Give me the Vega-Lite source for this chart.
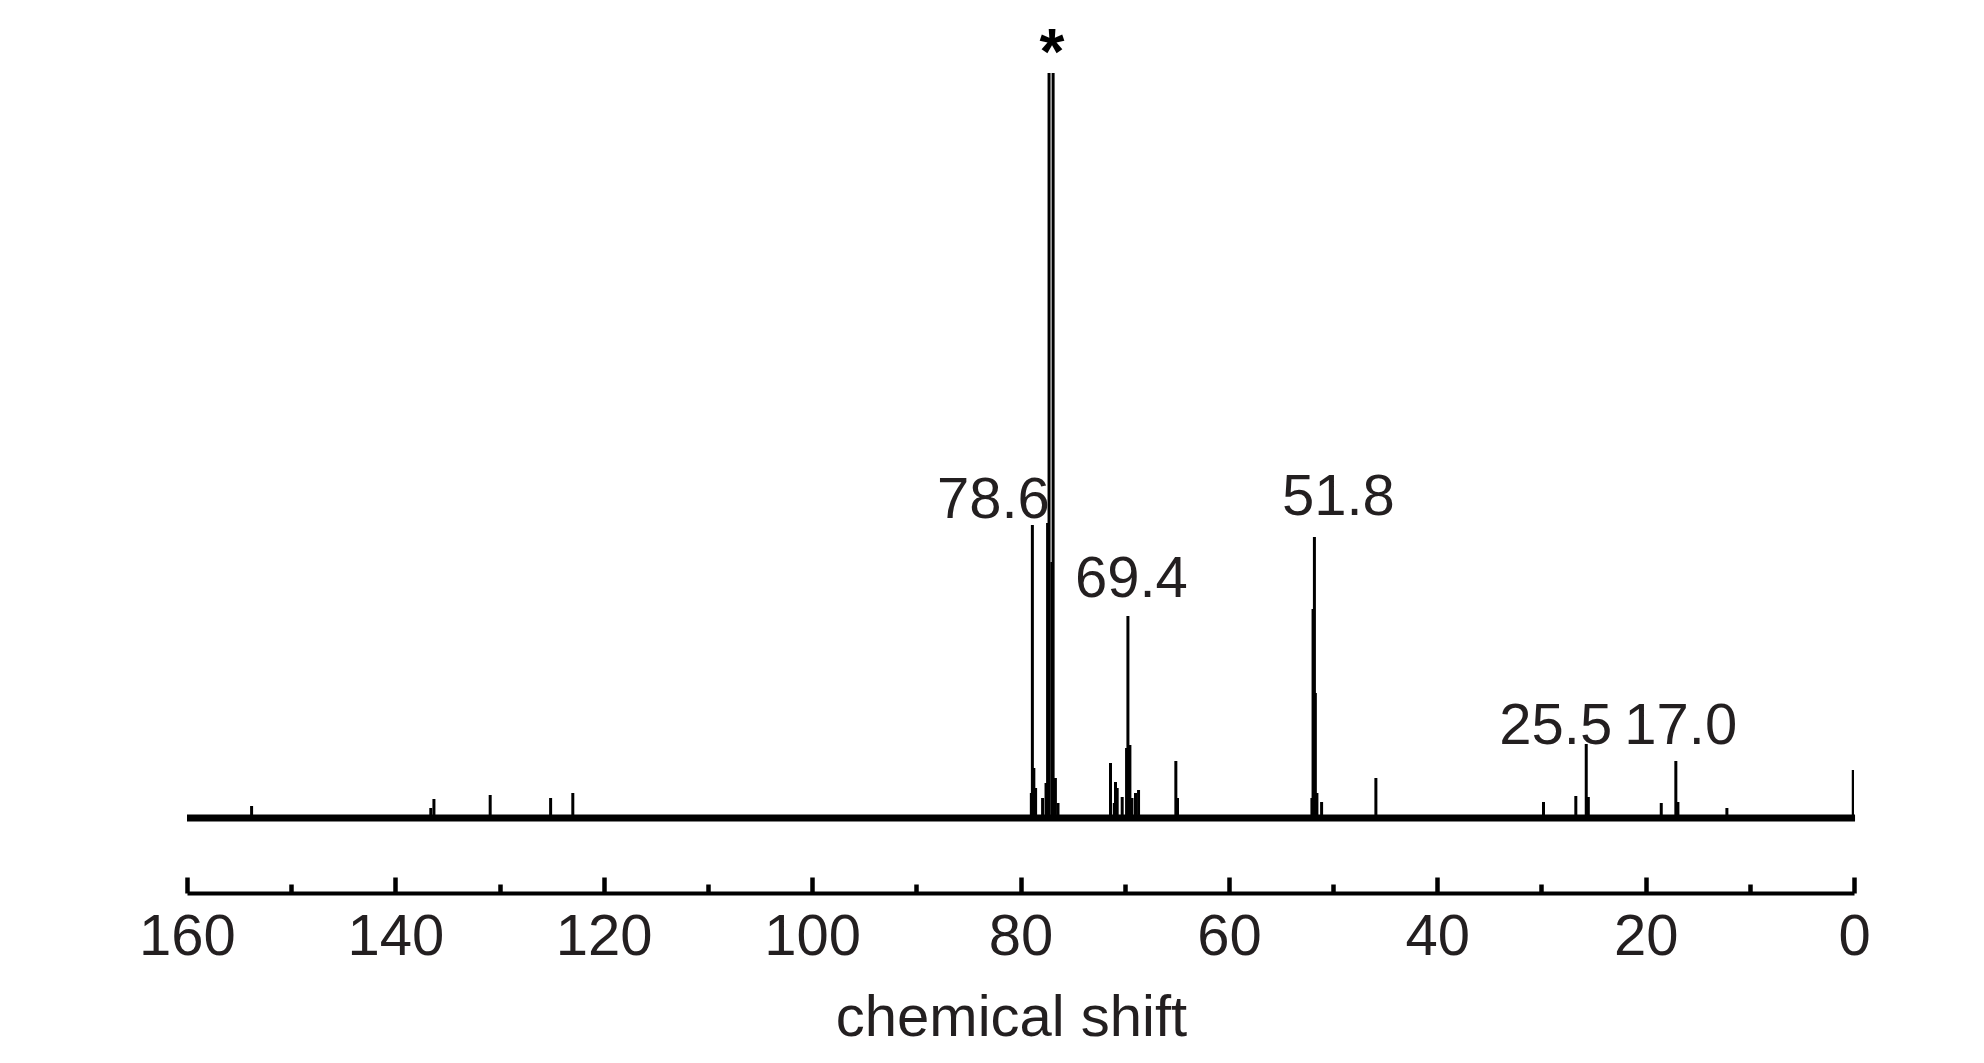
{
  "$schema": "https://vega.github.io/schema/vega-lite/v6.json",
  "width": 1667,
  "height": 820,
  "autosize": {"type": "none"},
  "padding": {"left": 187, "top": 73, "right": 130, "bottom": 170},
  "background": "white",
  "config": {"view": {"stroke": null}},
  "datasets": {
    "baseline": [
      {"ppm": 160, "v": 0}, {"ppm": 155, "v": 0}, {"ppm": 150, "v": 0}, {"ppm": 145, "v": 0},
      {"ppm": 140, "v": 0}, {"ppm": 135, "v": 0}, {"ppm": 130, "v": 0}, {"ppm": 125, "v": 0},
      {"ppm": 120, "v": 0}, {"ppm": 110, "v": 0}, {"ppm": 100, "v": 0}, {"ppm": 90, "v": 0},
      {"ppm": 80, "v": 0}, {"ppm": 70, "v": 0}, {"ppm": 60, "v": 0}, {"ppm": 50, "v": 0},
      {"ppm": 40, "v": 0}, {"ppm": 30, "v": 0}, {"ppm": 20, "v": 0}, {"ppm": 10, "v": 0},
      {"ppm": 0, "v": 0}, {"ppm": -0.1, "v": 0}
    ],
    "peaks": [
      {"ppm": 153.8, "h": 12}, {"ppm": 136.6, "h": 10}, {"ppm": 136.3, "h": 19},
      {"ppm": 130.9, "h": 23}, {"ppm": 125.1, "h": 20}, {"ppm": 122.97, "h": 25},
      {"ppm": 78.96, "h": 25}, {"ppm": 78.86, "h": 293}, {"ppm": 78.72, "h": 50}, {"ppm": 78.55, "h": 30},
      {"ppm": 77.88, "h": 20}, {"ppm": 77.55, "h": 35}, {"ppm": 77.4, "h": 295},
      {"ppm": 77.26, "h": 760}, {"ppm": 76.99, "h": 256}, {"ppm": 76.87, "h": 760},
      {"ppm": 76.65, "h": 40}, {"ppm": 76.4, "h": 15},
      {"ppm": 71.36, "h": 55}, {"ppm": 71.0, "h": 15}, {"ppm": 70.88, "h": 36}, {"ppm": 70.72, "h": 30},
      {"ppm": 70.24, "h": 21}, {"ppm": 69.82, "h": 70}, {"ppm": 69.69, "h": 202}, {"ppm": 69.5, "h": 73},
      {"ppm": 69.3, "h": 20}, {"ppm": 68.96, "h": 25}, {"ppm": 68.67, "h": 28},
      {"ppm": 65.09, "h": 57}, {"ppm": 64.93, "h": 20},
      {"ppm": 52.03, "h": 20}, {"ppm": 51.92, "h": 209}, {"ppm": 51.79, "h": 281}, {"ppm": 51.7, "h": 125},
      {"ppm": 51.55, "h": 25}, {"ppm": 51.1, "h": 16}, {"ppm": 45.89, "h": 40},
      {"ppm": 29.8, "h": 16}, {"ppm": 26.7, "h": 22}, {"ppm": 25.7, "h": 74}, {"ppm": 25.5, "h": 21},
      {"ppm": 18.5, "h": 15}, {"ppm": 17.1, "h": 57}, {"ppm": 16.9, "h": 16}, {"ppm": 12.2, "h": 10},
      {"ppm": 0.07, "h": 48}
    ],
    "labels": [
      {"text": "78.6", "ppm": 82.6, "v": 300},
      {"text": "69.4", "ppm": 69.36, "v": 221},
      {"text": "51.8", "ppm": 49.49, "v": 303},
      {"text": "25.5", "ppm": 28.63, "v": 74},
      {"text": "17.0", "ppm": 16.63, "v": 74}
    ],
    "star": [
      {"text": "*", "ppm": 76.99, "v": 744}
    ]
  },
  "resolve": {"axis": {"x": "independent"}},
  "layer": [
    {
      "data": {"name": "baseline"},
      "mark": {"type": "line", "color": "black", "strokeWidth": 7},
      "encoding": {
        "x": {
          "field": "ppm", "type": "quantitative",
          "scale": {"domain": [160, 0], "nice": false, "zero": false},
          "axis": {
            "orient": "bottom",
            "values": [0, 20, 40, 60, 80, 100, 120, 140, 160],
            "grid": false,
            "domainColor": "black", "domainWidth": 4,
            "tickColor": "black", "tickWidth": 4.5, "tickSize": -16,
            "labelFont": "Liberation Sans",
            "labelFontSize": 58, "labelColor": "#231f20",
            "labelPadding": 31, "labelFlush": false, "labelOverlap": false,
            "title": "chemical shift",
            "titleFont": "Liberation Sans",
            "titleFontSize": 58, "titleFontWeight": "normal", "titleColor": "#231f20",
            "titleX": 824, "titleY": 142, "titleBaseline": "alphabetic", "titleAlign": "center"
          }
        },
        "y": {
          "field": "v", "type": "quantitative",
          "scale": {"domain": [-75, 745], "nice": false, "zero": false},
          "axis": null
        }
      }
    },
    {
      "data": {"name": "peaks"},
      "mark": {"type": "rule", "color": "black", "strokeWidth": 3, "clip": true},
      "encoding": {
        "x": {
          "field": "ppm", "type": "quantitative",
          "scale": {"domain": [160, 0], "nice": false, "zero": false},
          "axis": {
            "orient": "bottom",
            "values": [10, 30, 50, 70, 90, 110, 130, 150],
            "grid": false, "domain": false, "labels": false, "title": null,
            "tickColor": "black", "tickWidth": 4.5, "tickSize": -9
          }
        },
        "y": {
          "field": "h", "type": "quantitative",
          "scale": {"domain": [-75, 745], "nice": false, "zero": false},
          "axis": null
        },
        "y2": {"datum": 0}
      }
    },
    {
      "data": {"name": "labels"},
      "mark": {
        "type": "text", "align": "center", "baseline": "alphabetic",
        "font": "Liberation Sans",
        "fontSize": 58, "color": "#231f20"
      },
      "encoding": {
        "x": {"field": "ppm", "type": "quantitative", "scale": {"domain": [160, 0], "nice": false, "zero": false}, "axis": null},
        "y": {"field": "v", "type": "quantitative", "scale": {"domain": [-75, 745], "nice": false, "zero": false}, "axis": null},
        "text": {"field": "text"}
      }
    },
    {
      "data": {"name": "star"},
      "mark": {
        "type": "text", "align": "center", "baseline": "alphabetic",
        "font": "Liberation Sans", "fontWeight": "bold",
        "fontSize": 64, "color": "black"
      },
      "encoding": {
        "x": {"field": "ppm", "type": "quantitative", "scale": {"domain": [160, 0], "nice": false, "zero": false}, "axis": null},
        "y": {"field": "v", "type": "quantitative", "scale": {"domain": [-75, 745], "nice": false, "zero": false}, "axis": null},
        "text": {"field": "text"}
      }
    }
  ]
}
